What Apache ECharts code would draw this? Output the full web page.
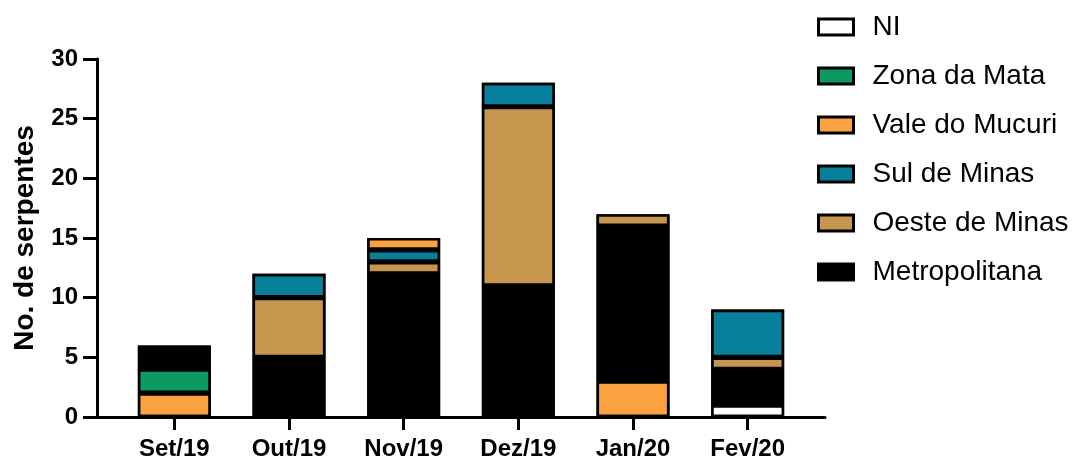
<!DOCTYPE html>
<html>
<head>
<meta charset="utf-8">
<script src="https://cdn.jsdelivr.net/npm/echarts@6/dist/echarts.min.js"></script>
<style>
  html, body { margin: 0; padding: 0; background: #fff; }
  #chart { width: 1075px; height: 462px; }
</style>
</head>
<body>
<div id="chart"></div>
<script>
// dados (serpentes por mes e regiao)
var months = ["Set/19", "Out/19", "Nov/19", "Dez/19", "Jan/20", "Fev/20"];
var ni = [null, null, null, null, null, 1];
var valeMucuriBase = [2, null, null, null, 3, null];
var zonaMata = [2, null, null, null, null, null];
var metropolitana = [2, 5, 12, 11, 13, 3];
var oesteMinas = [null, 5, 1, 15, 1, 1];
var sulMinas = [null, 2, 1, 2, null, 4];
var valeMucuriTopo = [null, null, 1, null, null, null];
var legendNames = ["NI", "Zona da Mata", "Vale do Mucuri", "Sul de Minas", "Oeste de Minas", "Metropolitana"];

// total de cada mes, usado so para o contorno preto atras das barras
var totals = months.map(function (m, i) {
  return [ni, valeMucuriBase, zonaMata, metropolitana, oesteMinas, sulMinas, valeMucuriTopo]
    .reduce(function (s, arr) { return s + (arr[i] || 0); }, 0);
});

var font = "Liberation Sans, Arial, sans-serif";

var chart = echarts.init(document.getElementById("chart"));

function bar(name, data, color) {
  return {
    name: name,
    type: "bar",
    stack: "total",
    data: data,
    barWidth: 73,
    z: 3,
    itemStyle: {
      color: color,
      borderColor: "#000",
      borderWidth: 2.6
    }
  };
}

var option = {
  animation: false,
  grid: [
    { left: 117, right: 270, top: 59, bottom: 45 },
    // so pra linha do eixo x ir do eixo y ate o fim
    { left: 97, right: 250, top: 59, bottom: 45 }
  ],
  legend: {
    data: legendNames,
    orient: "vertical",
    left: 812,
    top: 8,
    icon: "rect",
    itemWidth: 35,
    itemHeight: 16,
    itemGap: 21,
    selectedMode: false,
    itemStyle: { borderColor: "#000", borderWidth: 3 },
    textStyle: {
      fontFamily: font,
      fontSize: 28,
      lineHeight: 28,
      color: "#000",
      padding: [0, 0, 0, 14]
    }
  },
  xAxis: [
    {
      type: "category",
      gridIndex: 0,
      data: months,
      axisLine: { show: false },
      axisTick: {
        show: true,
        alignWithLabel: true,
        length: 13,
        lineStyle: { color: "#000", width: 3 }
      },
      axisLabel: {
        color: "#000",
        fontFamily: font,
        fontWeight: "bold",
        fontSize: 24,
        margin: 20
      }
    },
    {
      type: "value",
      gridIndex: 1,
      min: 0,
      max: 1,
      axisLine: { show: true, lineStyle: { color: "#000", width: 3 } },
      axisTick: { show: false },
      axisLabel: { show: false },
      splitLine: { show: false }
    }
  ],
  yAxis: [
    {
      type: "value",
      gridIndex: 0,
      min: 0,
      max: 30,
      interval: 5,
      offset: 20,
      name: "No. de serpentes",
      nameLocation: "middle",
      nameGap: 58,
      nameTextStyle: {
        color: "#000",
        fontFamily: font,
        fontWeight: "bold",
        fontSize: 28
      },
      axisLine: { show: true, lineStyle: { color: "#000", width: 3 } },
      axisTick: {
        show: true,
        length: 14,
        lineStyle: { color: "#000", width: 3 }
      },
      axisLabel: {
        color: "#000",
        fontFamily: font,
        fontWeight: "bold",
        fontSize: 24,
        margin: 19
      },
      splitLine: { show: false }
    },
    {
      type: "value",
      gridIndex: 1,
      show: false
    }
  ],
  series: [
    {
      name: "contorno",
      type: "bar",
      data: totals,
      barWidth: 73,
      z: 1,
      silent: true,
      itemStyle: { color: "#000" }
    },
    bar("NI", ni, "#ffffff"),
    bar("Vale do Mucuri", valeMucuriBase, "#fca13f"),
    bar("Zona da Mata", zonaMata, "#0c9a61"),
    bar("Metropolitana", metropolitana, "#000000"),
    bar("Oeste de Minas", oesteMinas, "#c6964f"),
    bar("Sul de Minas", sulMinas, "#08809b"),
    Object.assign(bar("Vale do Mucuri", valeMucuriTopo, "#fca13f"), { barGap: "-100%" })
  ]
};

chart.setOption(option);
window.onresize = function () {
  chart.resize();
};
</script>
</body>
</html>
